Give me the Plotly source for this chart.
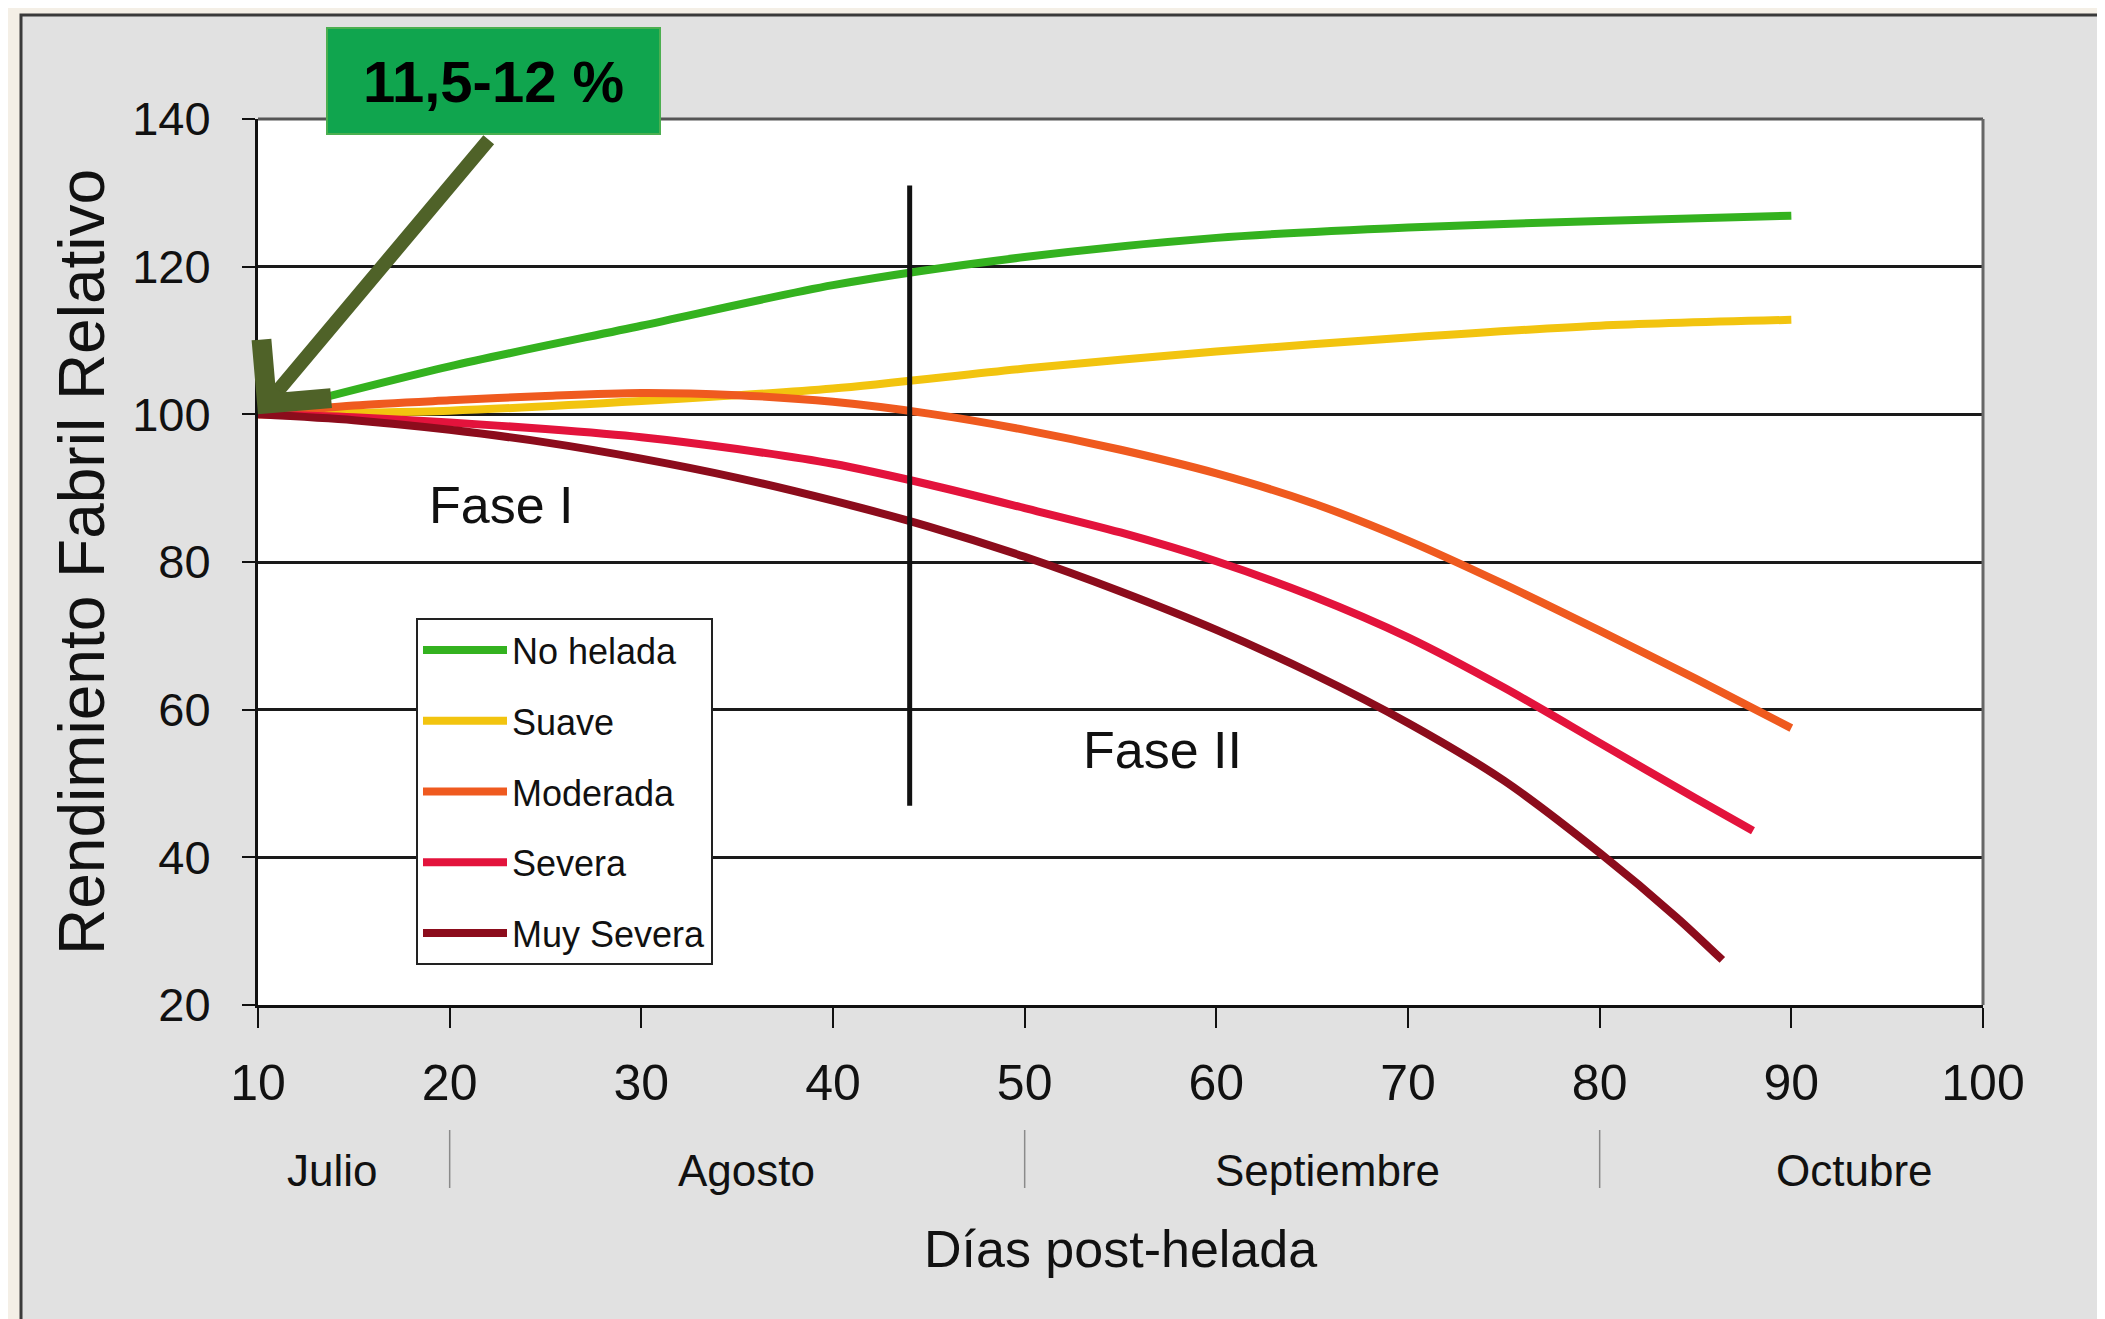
import plotly.graph_objects as go

# ---------------- data ----------------
series_names = ["No helada", "Suave", "Moderada", "Severa", "Muy Severa"]
series_colors = ["#34b21f", "#f2c40f", "#ef5a1f", "#e3133c", "#8c0c1c"]

x_no_helada = [10, 20, 30, 40, 50, 60, 70, 80, 90]
y_no_helada = [100, 106.5, 112, 117.5, 121.3, 123.9, 125.3, 126.2, 126.9]

x_suave = [10, 20, 30, 40, 50, 60, 70, 80, 90]
y_suave = [100, 100.5, 101.8, 103.5, 106.2, 108.5, 110.4, 112, 112.8]

x_moderada = [10, 15, 20, 25, 30, 35, 40, 45, 50, 55, 60, 65, 70, 75, 80, 85, 90]
y_moderada = [100, 101.2, 101.9, 102.5, 102.9, 102.6, 101.7, 100.1, 97.9, 95.2, 92, 88.0, 82.9, 77.0, 70.7, 64.2, 57.5]

x_severa = [10, 15, 20, 25, 30, 35, 40, 45, 50, 55, 60, 65, 70, 75, 80, 85, 88]
y_severa = [100, 99.6, 98.9, 98, 96.9, 95.3, 93.3, 90.5, 87.3, 84.0, 80.1, 75.4, 69.8, 63.0, 55.5, 48.0, 43.6]

x_muy_severa = [10, 15, 20, 25, 30, 35, 40, 45, 50, 55, 60, 65, 70, 75, 80, 84, 86.4]
y_muy_severa = [100, 99.2, 97.9, 96.2, 94, 91.4, 88.3, 84.8, 80.7, 76.0, 70.8, 64.9, 58.2, 50.4, 40.6, 31.9, 26.1]

series_x = [x_no_helada, x_suave, x_moderada, x_severa, x_muy_severa]
series_y = [y_no_helada, y_suave, y_moderada, y_severa, y_muy_severa]

x_ticks = [10, 20, 30, 40, 50, 60, 70, 80, 90, 100]
y_ticks = [20, 40, 60, 80, 100, 120, 140]

months = ["Julio", "Agosto", "Septiembre", "Octubre"]
month_centers = [13.9, 35.5, 65.8, 93.3]
month_separators = [20, 50, 80]

phase_line_x = [44, 44]
phase_line_y = [47, 131]
phase_labels = ["Fase I", "Fase II"]
phase_label_x = [22.7, 57.2]
phase_label_y = [87.7, 54.5]

callout_text = "11,5-12 %"
callout_point = (10, 100)

x_title = "Días post-helada"
y_title = "Rendimiento Fabril Relativo"

# ---------------- figure ----------------
W, H = 2105, 1319
L, R, T, B = 250, 130, 111, 322
PW, PH = W - L - R, H - T - B

def px2x(px):
    return (px - L) / PW

def py2y(py):
    return (H - B - py) / PH

FONT = "Liberation Sans, Arial, sans-serif"

fig = go.Figure()

for i, (name, col, xs, ys) in enumerate(zip(series_names, series_colors, series_x, series_y)):
    fig.add_trace(go.Scatter(
        x=xs, y=ys, mode="lines", name=name,
        line=dict(color=col, width=8, shape="spline", smoothing=0.8),
        legendgroup=f"g{i}",
    ))

# phase separator line
fig.add_trace(go.Scatter(
    x=phase_line_x, y=phase_line_y, mode="lines",
    line=dict(color="#111111", width=5), showlegend=False, hoverinfo="skip",
))

shapes = []
beige = "#f4efe6"
for (x0, x1, y0, y1) in [(0, 12, 0, H), (2093, W, 0, H), (0, W, 0, 6), (0, W, 1316, H)]:
    shapes.append(dict(type="rect", xref="paper", yref="paper",
                       x0=px2x(x0), x1=px2x(x1), y0=py2y(y1), y1=py2y(y0),
                       fillcolor=beige, line=dict(width=0), layer="above"))
shapes.append(dict(type="rect", xref="paper", yref="paper",
                   x0=px2x(13), x1=px2x(2092), y0=py2y(1316), y1=py2y(7),
                   line=dict(color="#3a3a3a", width=3), fillcolor="rgba(0,0,0,0)", layer="above"))
shapes.append(dict(type="line", xref="paper", yref="paper", x0=0, x1=1, y0=1, y1=1,
                   line=dict(color="#555555", width=3), layer="above"))
shapes.append(dict(type="line", xref="paper", yref="paper", x0=1, x1=1, y0=0, y1=1,
                   line=dict(color="#666666", width=3), layer="above"))
for sx in month_separators:
    shapes.append(dict(type="line", xref="x", yref="paper", x0=sx, x1=sx,
                       y0=py2y(1180), y1=py2y(1122),
                       line=dict(color="#8a8a8a", width=1.5)))

annotations = []
for m, mx in zip(months, month_centers):
    annotations.append(dict(text=m, x=mx, y=py2y(1162), xref="x", yref="paper",
                            showarrow=False, xanchor="center", yanchor="middle",
                            font=dict(family=FONT, size=44, color="#111111")))
for t, tx, ty in zip(phase_labels, phase_label_x, phase_label_y):
    annotations.append(dict(text=t, x=tx, y=ty, xref="x", yref="y",
                            showarrow=False, xanchor="center", yanchor="middle",
                            font=dict(family=FONT, size=52, color="#111111")))
annotations.append(dict(text=x_title, x=0.5, y=py2y(1241), xref="paper", yref="paper",
                        showarrow=False, xanchor="center", yanchor="middle",
                        font=dict(family=FONT, size=52, color="#111111")))
annotations.append(dict(text=y_title, x=px2x(74), y=0.5, xref="paper", yref="paper",
                        showarrow=False, xanchor="center", yanchor="middle", textangle=-90,
                        font=dict(family=FONT, size=64, color="#111111")))
# arrow
annotations.append(dict(text="", x=callout_point[0], y=callout_point[1], xref="x", yref="y",
                        ax=232, ay=-276, axref="pixel", ayref="pixel",
                        showarrow=True, arrowhead=4, arrowsize=1.25, arrowwidth=14,
                        arrowcolor="#4f6228", standoff=0))
# callout box
annotations.append(dict(text="<b>" + callout_text + "</b>", x=px2x(485), y=py2y(73),
                        xref="paper", yref="paper", showarrow=False,
                        xanchor="center", yanchor="middle",
                        width=327, height=100, borderpad=2, borderwidth=2,
                        bgcolor="#10a54e", bordercolor="#4caf50",
                        font=dict(family=FONT, size=58, color="#000000")))

fig.update_layout(
    width=W, height=H, autosize=False,
    margin=dict(l=L, r=R, t=T, b=B, pad=0),
    paper_bgcolor="#e1e1e1", plot_bgcolor="#ffffff",
    shapes=shapes, annotations=annotations,
    showlegend=True,
    legend=dict(x=px2x(408), y=py2y(610), xanchor="left", yanchor="top",
                bgcolor="#ffffff", bordercolor="#222222", borderwidth=2,
                font=dict(family=FONT, size=36, color="#111111"),
                itemwidth=84, tracegroupgap=21, traceorder="grouped"),
    xaxis=dict(range=[10, 100], tickvals=x_ticks, ticks="outside", ticklen=20,
               tickwidth=2, tickcolor="#111111", showline=True, linecolor="#111111",
               linewidth=3, showgrid=False, zeroline=False, ticklabelstandoff=12,
               tickfont=dict(family=FONT, size=50, color="#111111")),
    yaxis=dict(range=[20, 140], tickvals=y_ticks, ticks="outside", ticklen=13,
               tickwidth=2, tickcolor="#111111", showline=True, linecolor="#111111",
               linewidth=3, showgrid=True, gridcolor="#1a1a1a", gridwidth=3,
               zeroline=False, ticklabelstandoff=22,
               tickfont=dict(family=FONT, size=47, color="#111111")),
)

fig.write_html("out.html")
